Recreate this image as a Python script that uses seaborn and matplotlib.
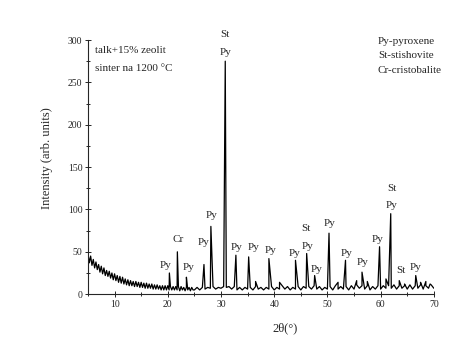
import numpy as np
import pandas as pd
import matplotlib
matplotlib.use("Agg")
import matplotlib.pyplot as plt
import seaborn as sns
from matplotlib.ticker import MultipleLocator

# background at low angle, read every 0.25 deg (2theta 5..24.75), dense noise
bg_lo_2theta = np.arange(5.0, 24.9, 0.25)
bg_lo_counts = [48, 37, 45, 34, 41, 31, 38, 29, 35, 26, 33, 24, 31, 22, 28, 21, 27, 19, 25, 17,
                24, 16, 22, 14, 21, 13, 20, 12, 18, 11, 17, 10, 16, 10, 15, 9, 15, 9, 14, 8,
                14, 8, 13, 7, 13, 7, 12, 7, 12, 6, 11, 6, 11, 6, 10, 5, 10, 5, 10, 5,
                10, 5, 9, 5, 9, 5, 9, 5, 9, 4, 9, 5, 8, 4, 8, 5, 8, 4, 8, 5]

# background at higher angle, read every 0.5 deg (2theta 25..70)
bg_hi_2theta = np.arange(25.0, 70.01, 0.5)
bg_hi_counts = [5, 8, 5, 8, 6, 8, 7, 9, 6, 8, 7, 9, 8, 9, 6, 9, 5, 8, 5, 8,
                6, 8, 5, 9, 6, 8, 5, 8, 6, 9, 5, 8, 6, 10, 6, 9, 5, 8, 6, 9,
                5, 9, 7, 9, 6, 10, 6, 9, 5, 8, 6, 9, 5, 10, 6, 9, 6, 9, 5, 10,
                6, 11, 7, 10, 6, 10, 5, 9, 6, 10, 6, 10, 7, 10, 7, 11, 6, 10, 7, 10,
                6, 11, 6, 10, 7, 11, 6, 10, 7, 11, 7]

# peak apexes
peak_2theta = [20.3, 21.8, 23.5, 26.8, 28.1, 30.8, 32.8, 35.2, 36.5, 39.0, 41.0, 44.0,
               46.1, 47.6, 50.3, 52.0, 53.4, 55.5, 56.5, 57.5, 59.8, 61.0, 61.9, 63.5,
               64.5, 66.6, 67.5, 68.5, 69.3]
peak_counts = [25, 50, 20, 35, 80, 275, 46, 44, 15, 42, 14, 40,
               48, 22, 72, 14, 40, 16, 26, 15, 56, 18, 95, 16,
               12, 22, 14, 15, 12]

# phase labels: text, 2theta, intensity (label centre)
label_text = ["Py", "Cr", "Py", "Py", "Py", "St", "Py", "Py", "Py", "Py", "Py",
              "St", "Py", "Py", "Py", "Py", "Py", "Py", "St", "Py", "St", "Py"]
label_x = [19.6, 22.0, 23.9, 26.7, 28.3, 30.8, 30.8, 33.0, 36.1, 39.3, 43.8,
           46.0, 46.2, 47.9, 50.5, 53.7, 56.7, 59.5, 62.1, 62.1, 63.8, 66.6]
label_y = [34, 64, 31, 61, 93, 306, 285, 55, 55, 52, 48,
           77, 56, 29, 84, 48, 37, 64, 125, 105, 28, 31]

legend_lines = ["Py-pyroxene", "St-stishovite", "Cr-cristobalite"]
sample_lines = ["talk+15% zeolit", "sinter na 1200 \u00b0C"]

df = pd.DataFrame({
    "two_theta": np.concatenate([bg_lo_2theta, bg_hi_2theta, peak_2theta]),
    "intensity": np.concatenate([bg_lo_counts, bg_hi_counts, peak_counts]),
}).sort_values("two_theta")

sns.set_theme(style="ticks")
plt.rcParams["font.family"] = ["Liberation Serif", "DejaVu Serif"]

fig = plt.figure(figsize=(4.63, 3.54), dpi=100)
ax = fig.add_axes([0.19, 0.169, 0.747, 0.718])

sns.lineplot(data=df, x="two_theta", y="intensity", ax=ax, color="black",
             linewidth=0.9, estimator=None, sort=False)

ax.set_xlim(5, 70)
ax.set_ylim(0, 300)
ax.xaxis.set_major_locator(MultipleLocator(10))
ax.xaxis.set_minor_locator(MultipleLocator(5))
ax.yaxis.set_major_locator(MultipleLocator(50))
ax.yaxis.set_minor_locator(MultipleLocator(25))
ax.tick_params(which="both", direction="inout", labelsize=7, width=0.7, pad=2)
ax.tick_params(which="major", length=4)
ax.tick_params(which="minor", length=2.5)
sns.despine(ax=ax)
for s in ("left", "bottom"):
    ax.spines[s].set_linewidth(0.8)

ax.set_xlabel("2\u03b8(\u00b0)", fontsize=9)
ax.set_ylabel("Intensity (arb. units)", fontsize=9)
ax.xaxis.set_label_coords(0.57, -0.11)
ax.yaxis.set_label_coords(-0.1, 0.535)

for t, x, y in zip(label_text, label_x, label_y):
    ax.text(x, y, t, fontsize=8, ha="center", va="center", clip_on=False)

for i, t in enumerate(sample_lines):
    ax.text(0.02, 0.975 - i * 0.07, t, transform=ax.transAxes, fontsize=8, va="top")
for i, t in enumerate(legend_lines):
    ax.text(0.838, 1.012 - i * 0.057, t, transform=ax.transAxes, fontsize=8, va="top")

fig.savefig("out.png", dpi=100)
